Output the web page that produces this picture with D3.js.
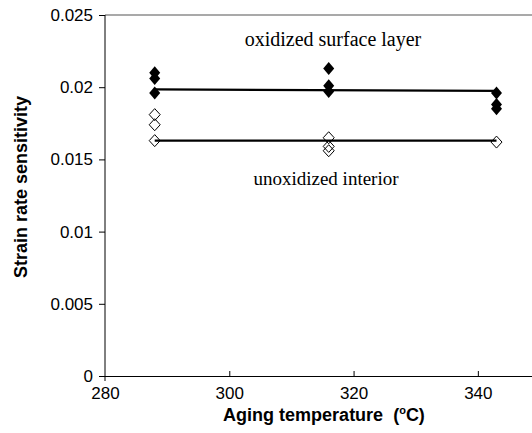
<!DOCTYPE html>
<html><head><meta charset="utf-8">
<script src="https://cdn.jsdelivr.net/npm/d3@7"></script>
<style>body{margin:0;background:#fff}svg{display:block}</style>
</head><body>
<svg id="c" width="532" height="433"></svg>
<script>
const xTicks = [280, 300, 320, 340];
const yTicks = [0, 0.005, 0.01, 0.015, 0.02, 0.025];
const oxidizedT = [288, 288, 288, 316, 316, 316, 343, 343, 343];
const oxidizedV = [0.0210, 0.0206, 0.0196, 0.0213, 0.0201, 0.0197, 0.0196, 0.0188, 0.0185];
const interiorT = [288, 288, 288, 316, 316, 316, 343];
const interiorV = [0.0181, 0.0174, 0.0163, 0.0165, 0.0159, 0.0156, 0.0162];
const fitT = [288, 343];
const oxidizedFit = [0.01985, 0.01975];
const interiorFit = [0.0163, 0.0163];

const svg = d3.select("#c");
const x = d3.scaleLinear().domain([280, 350]).range([105, 540]);
const y = d3.scaleLinear().domain([0, 0.025]).range([376, 15]);
const sans = "Arial, 'Liberation Sans', sans-serif";
const serif = "'Times New Roman', 'Liberation Serif', serif";

// top border
svg.append("line").attr("x1", 105).attr("x2", 532).attr("y1", y(0.025)).attr("y2", y(0.025))
  .attr("stroke", "#555").attr("stroke-width", 1.2);

// y axis
const ya = svg.append("g").attr("transform", "translate(105,0)")
  .call(d3.axisLeft(y).tickValues(yTicks).tickSize(6).tickPadding(6)
    .tickFormat(d => d === 0 ? "0" : String(+d.toFixed(3))));
ya.select(".domain").remove();
svg.append("line").attr("x1", 105).attr("x2", 105).attr("y1", 15).attr("y2", 381).attr("stroke", "#000");

// x axis
const xa = svg.append("g").attr("transform", "translate(0,376)")
  .call(d3.axisBottom(x).tickValues(xTicks).tickSizeInner(-5).tickSizeOuter(0).tickPadding(11));
xa.select(".domain").attr("d", "M105,0.5H532");
xa.selectAll(".tick line").filter(d => d === 280).remove();

svg.selectAll(".tick text").attr("font-family", sans).attr("font-size", 17).attr("fill", "#000");
xa.selectAll(".tick text").attr("dy", "0.71em");

// fit lines
const line = d3.line().x(d => x(d[0])).y(d => y(d[1]));
svg.append("path").attr("d", line(fitT.map((t, i) => [t, oxidizedFit[i]])))
  .attr("stroke", "#000").attr("stroke-width", 2.2).attr("fill", "none");
svg.append("path").attr("d", line(fitT.map((t, i) => [t, interiorFit[i]])))
  .attr("stroke", "#000").attr("stroke-width", 2.2).attr("fill", "none");

// markers
const dia = (cx, cy, w, h) => `M${cx},${cy - h}L${cx + w},${cy}L${cx},${cy + h}L${cx - w},${cy}Z`;
svg.selectAll(".open").data(interiorT.map((t, i) => [t, interiorV[i]])).join("path")
  .attr("d", d => dia(x(d[0]), y(d[1]), 5.5, 6)).attr("fill", "none")
  .attr("stroke", "#000").attr("stroke-width", 1);
svg.selectAll(".fill").data(oxidizedT.map((t, i) => [t, oxidizedV[i]])).join("path")
  .attr("d", d => dia(x(d[0]), y(d[1]), 5.5, 6.5)).attr("fill", "#000");

// annotations
svg.append("text").attr("x", 333).attr("y", 46).attr("text-anchor", "middle")
  .attr("font-family", serif).attr("font-size", 20).text("oxidized surface layer");
svg.append("text").attr("x", 326).attr("y", 185).attr("text-anchor", "middle")
  .attr("font-family", serif).attr("font-size", 19).text("unoxidized interior");

// axis titles
const xt = svg.append("text").attr("x", 324).attr("y", 421).attr("text-anchor", "middle")
  .attr("font-family", sans).attr("font-size", 18).attr("font-weight", "bold");
xt.append("tspan").text("Aging temperature\u00a0 (");
xt.append("tspan").attr("font-size", 11).attr("dy", -7).text("o");
xt.append("tspan").attr("dy", 7).text("C)");
svg.append("text").attr("transform", "translate(27,187) rotate(-90)").attr("text-anchor", "middle")
  .attr("font-family", sans).attr("font-size", 18).attr("font-weight", "bold")
  .text("Strain rate sensitivity");
</script>
</body></html>
